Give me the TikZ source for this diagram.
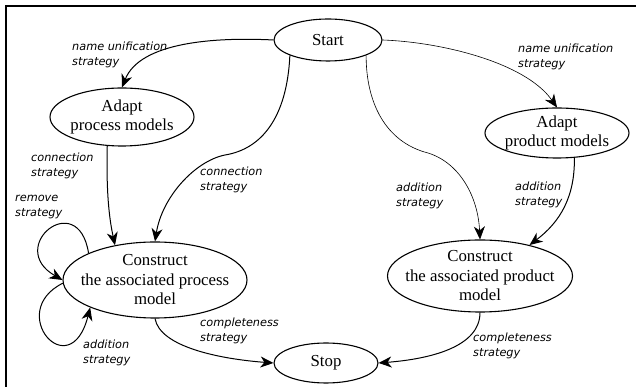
\documentclass[tikz,border=0pt]{standalone}
\usepackage{fontspec}
\setmainfont{Liberation Serif}
\newfontfamily\lblfont{DejaVu Sans}
\usetikzlibrary{arrows.meta,shapes.geometric}

\tikzset{
  state/.style={ellipse, draw, line width=1.1pt, inner sep=0pt},
  statetext/.style={inner sep=0pt, align=center,
    font=\fontsize{16.8}{19.5}\selectfont},
  lbl/.style={anchor=north west, inner sep=0pt, align=left,
    font=\lblfont\itshape\fontsize{11.3}{15}\selectfont},
  flow/.style={line width=1pt,
    -{Stealth[length=13pt,width=11pt,inset=4pt]}},
  thinflow/.style={flow, line width=0.6pt},
  frameline/.style={line width=1.3pt}
}

\begin{document}
\begin{tikzpicture}[x=1pt,y=1pt]
\useasboundingbox (0,0) rectangle (636,387);

% frame (top and left edges)
\draw[frameline] (6,0) -- (6,381) -- (636,381);

% states
\node[state, minimum width=108pt, minimum height=42pt] (start) at (328,347) {};
\node[statetext] (startt) at (start.center) {Start};

\node[state, minimum width=104pt, minimum height=40pt] (stop) at (326,24) {};
\node[statetext] (stopt) at (stop.center) {Stop};

\node[state, minimum width=144pt, minimum height=58pt] (ap) at (122,270) {};
\node[statetext] (apt) at (ap.center) {Adapt\\process models};

\node[state, minimum width=144pt, minimum height=50pt] (apd) at (557,254) {};
\node[statetext] (apdt) at (apd.center) {Adapt\\product models};

\node[state, minimum width=184pt, minimum height=76pt] (cp) at (155,107) {};
\node[statetext] (cpt) at (cp.center) {Construct\\the associated process\\model};

\node[state, minimum width=185pt, minimum height=72pt] (cpd) at (480,111) {};
\node[statetext] (cpdt) at (cpd.center) {Construct\\the associated product\\model};

% connectors
\draw[flow] (start.west) .. controls (215,350) and (140,345) .. (ap.north);
\draw[thinflow] (start.east) .. controls (440,345) and (525,325) .. (apd.north);
\draw[flow] (ap.243) .. controls (106,190) and (110,165) .. (cp.139);
\draw[flow] (start.202) .. controls (287,270) and (262,238) .. (225,232)
  .. controls (195,226) and (162,190) .. (cp.north);
\draw[thinflow] (start.-22) .. controls (366,285) and (385,245) .. (428,234)
  .. controls (460,224) and (478,190) .. (cpd.north);
\draw[flow] (apd.-55) .. controls (575,190) and (560,165) .. (cpd.32);
\draw[flow] (cp.south) .. controls (160,40) and (220,28) .. (stop.west);
\draw[flow] (cpd.south) .. controls (480,40) and (430,28) .. (stop.east);
% self loops
\draw[flow] (cp.158) .. controls (78,200) and (5,140) .. (cp.west);
\draw[flow] (cp.182) .. controls (5,75) and (70,0) .. (cp.-157);

% strategy labels
\node[lbl] (l1) at (72,345) {name unification\\strategy};
\node[lbl] (l2) at (518,343) {name unification\\strategy};
\node[lbl] (l3) at (31,234) {connection\\strategy};
\node[lbl] (l4) at (200,220) {connection\\strategy};
\node[lbl] (l5) at (396,204) {addition\\strategy};
\node[lbl] (l6) at (515,205) {addition\\strategy};
\node[lbl] (l7) at (15,192) {remove\\strategy};
\node[lbl] (l8) at (83,47) {addition\\strategy};
\node[lbl] (l9) at (200,69) {completeness\\strategy};
\node[lbl] (l10) at (473,54) {completeness\\strategy};
\end{tikzpicture}
\end{document}
